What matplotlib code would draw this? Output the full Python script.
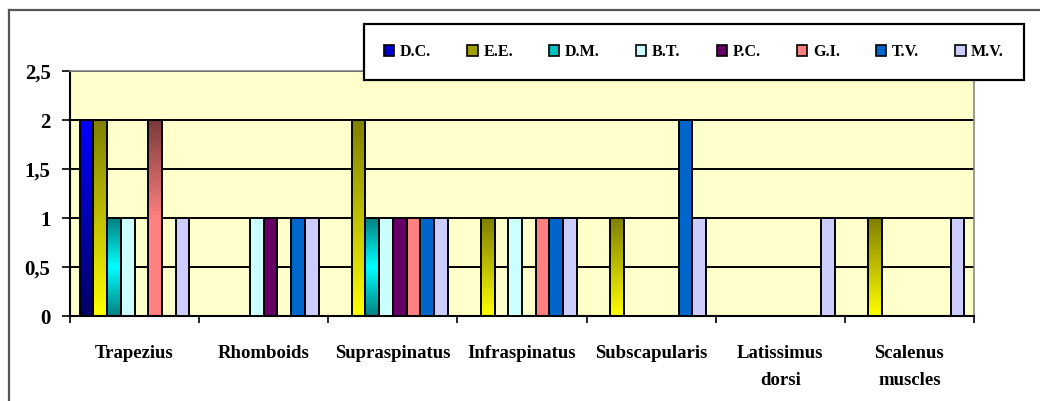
import numpy as np
import matplotlib
matplotlib.use("Agg")
import matplotlib.pyplot as plt
from matplotlib.colors import LinearSegmentedColormap, to_rgb
from matplotlib.patches import Patch
from matplotlib.lines import Line2D

plt.rcParams["font.family"] = ["Liberation Serif", "DejaVu Serif"]
plt.rcParams["font.weight"] = "bold"

# muscles on the x axis, one group of bars per muscle
MUSCLES = ["Trapezius", "Rhomboids", "Supraspinatus", "Infraspinatus",
           "Subscapularis", "Latissimus\ndorsi", "Scalenus\nmuscles"]
SERIES = ["D.C.", "E.E.", "D.M.", "B.T.", "P.C.", "G.I.", "T.V.", "M.V."]

DC = [2, 0, 0, 0, 0, 0, 0]
EE = [2, 0, 2, 1, 1, 0, 1]
DM = [1, 0, 1, 0, 0, 0, 0]
BT = [1, 1, 1, 1, 0, 0, 0]
PC = [0, 1, 1, 0, 0, 0, 0]
GI = [2, 0, 1, 1, 0, 0, 0]
TV = [0, 1, 1, 1, 2, 0, 0]
MV = [1, 1, 1, 1, 1, 1, 1]
VALUES = [DC, EE, DM, BT, PC, GI, TV, MV]

YTICKS = [0, 0.5, 1, 1.5, 2, 2.5]
YTICK_LABELS = ["0", "0,5", "1", "1,5", "2", "2,5"]

# fills: plain colour or a colour ramp (bottom -> top)
FILLS = {
    "D.C.": ("ramp", ["#000066", "#0000ff"]),
    "E.E.": ("ramp", ["#ffff00", "#808000"]),
    "D.M.": ("ramp", ["#008080", "#00ffff", "#008080"]),
    "B.T.": ("solid", "#ccffff"),
    "P.C.": ("solid", "#660066"),
    "G.I.": ("data", ["#ff8080", "#ff8080", "#7a3a3a"]),
    "T.V.": ("solid", "#0066cc"),
    "M.V.": ("solid", "#ccccff"),
}
LEGEND_COLORS = ["#0000cc", "#a0a000", "#00c0c0", "#ccffff",
                 "#660066", "#ff8080", "#0066cc", "#ccccff"]

W, H = 1040, 401
fig = plt.figure(figsize=(W / 100, H / 100), dpi=100)

# outer chart frame (runs off the right and bottom edges)
fig.add_artist(Line2D([9 / W, 9 / W], [1 - 10 / H, 0], transform=fig.transFigure,
                      color="#555555", lw=1.6))
fig.add_artist(Line2D([9 / W, 1], [1 - 10 / H, 1 - 10 / H], transform=fig.transFigure,
                      color="#555555", lw=1.6))

ax = fig.add_axes([70 / W, 1 - 316 / H, (974 - 70) / W, (316 - 71) / H])
ax.set_facecolor("#ffffcc")

n_cat = len(MUSCLES)
n_ser = len(SERIES)
bar_w = 0.85 / n_ser
x = np.arange(n_cat)

for i, (name, vals) in enumerate(zip(SERIES, VALUES)):
    offs = x - 0.425 + bar_w * (i + 0.5)
    kind, col = FILLS[name]
    face = col if kind == "solid" else "none"
    bars = ax.bar(offs, vals, width=bar_w, color=face, edgecolor="black",
                  linewidth=1.4, zorder=3)
    if kind == "solid":
        continue
    cmap = LinearSegmentedColormap.from_list(name, [to_rgb(c) for c in col])
    grad = np.linspace(0, 1, 256).reshape(-1, 1)
    for b, v in zip(bars, vals):
        if v == 0:
            continue
        x0 = b.get_x()
        # "ramp" spans each bar, "data" follows the y scale (0 .. 2)
        top = v if kind == "ramp" else 2
        im = ax.imshow(grad, cmap=cmap, origin="lower",
                       extent=(x0, x0 + bar_w, 0, top),
                       aspect="auto", zorder=2.5, interpolation="bilinear")
        im.set_clip_path(b)

ax.set_xlim(-0.5, n_cat - 0.5)
ax.set_ylim(0, 2.5)

ax.set_yticks(YTICKS)
ax.set_yticklabels(YTICK_LABELS, fontsize=15, fontweight="bold")
ax.yaxis.grid(True, color="black", lw=1.4, zorder=1)
ax.set_axisbelow(True)
ax.tick_params(axis="y", length=6, width=1.2, direction="out", pad=8)

ax.set_xticks(x)
ax.set_xticklabels(MUSCLES, fontsize=13.5, fontweight="bold", linespacing=1.75,
                   va="top")
ax.tick_params(axis="x", length=0, pad=21)
ax.set_xticks(np.arange(n_cat + 1) - 0.5, minor=True)
ax.tick_params(axis="x", which="minor", length=5, width=1.2, direction="out")

for side in ("top", "right"):
    ax.spines[side].set_color("#888888")
    ax.spines[side].set_linewidth(1.2)
for side in ("left", "bottom"):
    ax.spines[side].set_color("black")
    ax.spines[side].set_linewidth(1.5)

handles = [Patch(facecolor=c, edgecolor="black", linewidth=1.2) for c in LEGEND_COLORS]
leg = fig.legend(handles, SERIES, ncol=n_ser, loc="upper left",
                 bbox_to_anchor=(364 / W, 1 - 80 / H, (1024 - 364) / W, (80 - 24) / H),
                 mode="expand", frameon=True, fancybox=False, edgecolor="black",
                 framealpha=1, borderpad=1.25, borderaxespad=0,
                 handlelength=0.65, handleheight=0.65,
                 handletextpad=0.35, columnspacing=1.0,
                 prop={"size": 11.5, "weight": "bold"})
leg.get_frame().set_linewidth(1.6)
leg.set_zorder(10)

fig.savefig("out.png", dpi=100)
